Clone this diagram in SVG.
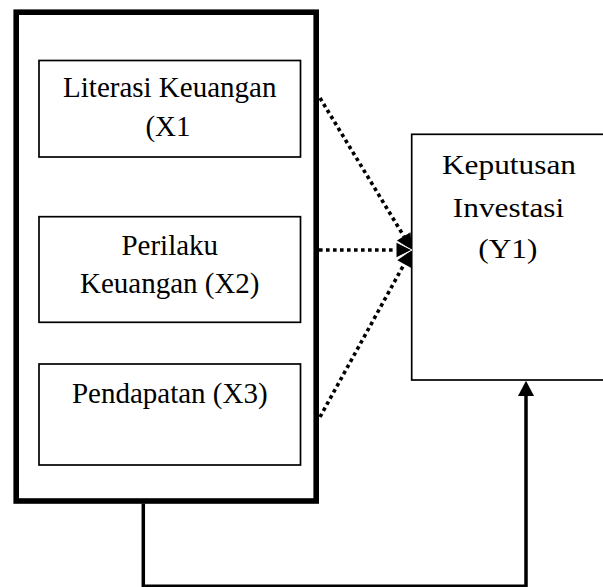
<svg xmlns="http://www.w3.org/2000/svg" width="603" height="587" viewBox="0 0 603 587">
<style>
.box{fill:#fff;stroke:#000;stroke-width:1.7}
.outer{fill:#fff;stroke:#000;stroke-width:5.6}
.t{font-family:"Liberation Serif","Times New Roman",serif;font-size:29px;fill:#000;text-anchor:middle}
.dot{fill:none;stroke:#000;stroke-width:3.6;stroke-dasharray:3.6 3.4}
.conn{fill:none;stroke:#000;stroke-width:3.5}
</style>
<rect width="603" height="587" fill="#fff"/>
<g id="group-x">
<rect class="outer" x="16.2" y="12.2" width="300" height="488.8"/>
</g>
<g id="x1">
<rect class="box" x="39" y="60.5" width="261.5" height="96.5"/>
<text class="t" x="169.75" y="97.3">Literasi Keuangan</text>
<text class="t" x="168" y="136">(X1</text>
</g>
<g id="x2">
<rect class="box" x="39" y="216.7" width="261.5" height="105.6"/>
<text class="t" x="169.75" y="255">Perilaku</text>
<text class="t" x="169.75" y="292.7">Keuangan (X2)</text>
</g>
<g id="x3">
<rect class="box" x="39" y="364" width="261.5" height="101"/>
<text class="t" x="169.75" y="402.5">Pendapatan (X3)</text>
</g>
<g id="y1">
<rect class="box" x="411.7" y="134.3" width="200" height="245.7"/>
<text class="t" font-size="28" transform="translate(509,174) scale(1.12,1)" style="font-size:28px" x="0" y="0">Keputusan</text>
<text class="t" transform="translate(508.5,216.7) scale(1.12,1)" style="font-size:28px" x="0" y="0">Investasi</text>
<text class="t" transform="translate(507.8,257.5) scale(1.12,1)" style="font-size:28px" x="0" y="0">(Y1)</text>
</g>
<g id="connectors">
<line class="dot" x1="320" y1="98" x2="404" y2="236.5"/>
<line class="dot" x1="319" y1="250" x2="397" y2="250"/>
<line class="dot" x1="320" y1="417" x2="404.5" y2="263.5"/>
<polygon points="412,250 410.5,232.2 396.9,240.4" fill="#000"/>
<polygon points="412,250 411.3,267.9 397.3,260.2" fill="#000"/>
<polygon points="412,250 396,242 396,258" fill="#000" stroke="#fff" stroke-width="1"/>
<path class="conn" d="M143.3,503.5 V586.3 H526 V395"/>
<polygon points="526,380.8 518,396 534,396" fill="#000"/>
</g>
</svg>
